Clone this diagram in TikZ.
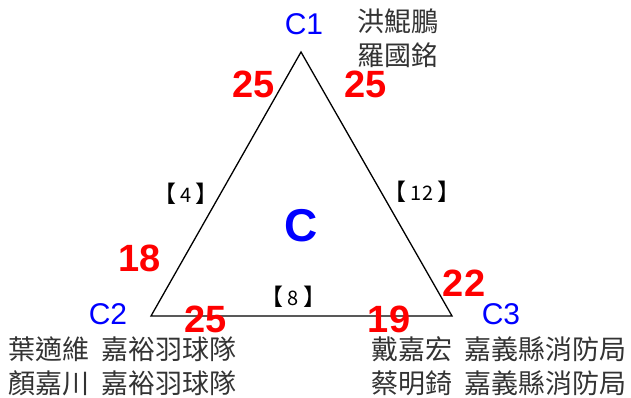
\documentclass[tikz,border=0pt]{standalone}
\usepackage{fontspec}
\setmainfont{Liberation Sans}
\newfontfamily\cjk{Noto Sans CJK TC}
\usetikzlibrary{positioning}

\newcommand{\lbr}{{\fontsize{23}{23}\selectfont 【}\hspace{4pt}}
\newcommand{\rbr}{\hspace{4pt}{\fontsize{23}{23}\selectfont 】}}

\begin{document}
\begin{tikzpicture}[
    x=1pt, y=-1pt,
    vlab/.style={text=blue, inner sep=0pt, font=\fontsize{30}{30}\selectfont},
    score/.style={text=red, inner sep=0pt, font=\fontsize{38}{38}\selectfont\bfseries},
    cnt/.style={inner sep=0pt, font=\cjk\fontsize{20}{20}\selectfont},
    member/.style={inner sep=0pt, anchor=west, align=left, text=black!80,
                   font=\cjk\fontsize{27}{34}\selectfont},
    edge/.style={line width=1.3pt, line join=miter}
  ]
    \useasboundingbox (0,0) rectangle (631,397);

    % Triangle corners
    \coordinate (c1) at (301,52);
    \coordinate (c2) at (151,316);
    \coordinate (c3) at (452,316);
    \draw[edge] (c1) -- (c2) -- (c3) -- cycle;

    % Corner labels
    \node[vlab] (l1) at (304,24) {C1};
    \node[vlab] (l2) at (108,314) {C2};
    \node[vlab] (l3) at (501,314) {C3};
    \node[text=blue, inner sep=0pt, font=\fontsize{46}{46}\selectfont\bfseries] (cc) at (301,226) {C};

    % Scores
    \node[score] (s1) at (253.5,84.5) {25};
    \node[score] (s2) at (366,84.5) {25};
    \node[score] (s3) at (140,258) {18};
    \node[score] (s4) at (464,283) {22};
    \node[score] (s5) at (206,319.5) {25};
    \node[score] (s6) at (389,319.5) {19};

    % Counts
    \node[cnt] (n1) at (186,194) {\lbr 4\rbr};
    \node[cnt] (n2) at (422,192) {\lbr 12\rbr};
    \node[cnt] (n3) at (293.5,297) {\lbr 8\rbr};

    % Members
    \node[member] (m1) at (357,38) {洪鯤鵬\\羅國銘};
    \node[member] (m2) at (8,366) {葉適維\hspace{0.45em}嘉裕羽球隊\\顏嘉川\hspace{0.45em}嘉裕羽球隊};
    \node[member] (m3) at (371,366) {戴嘉宏\hspace{0.45em}嘉義縣消防局\\蔡明錡\hspace{0.45em}嘉義縣消防局};
  \end{tikzpicture}
\end{document}
